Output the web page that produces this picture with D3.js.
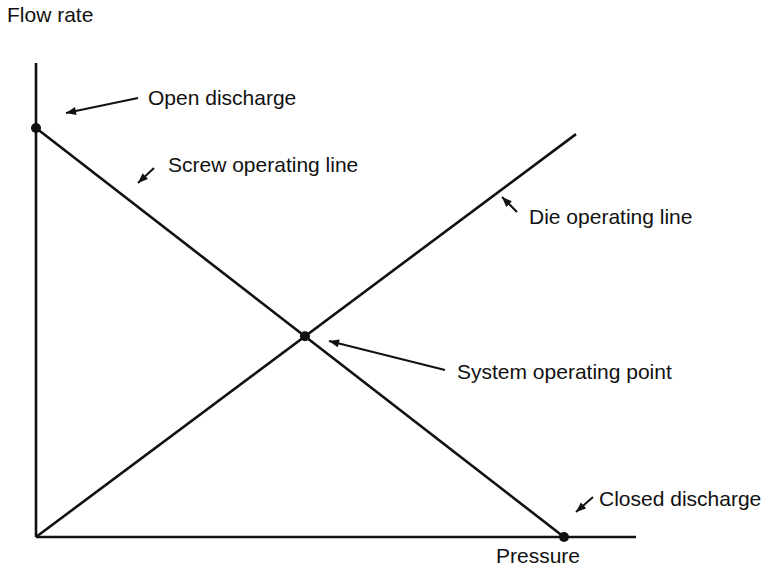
<!DOCTYPE html>
<html>
<head>
<meta charset="utf-8">
<script src="https://cdn.jsdelivr.net/npm/d3@7"></script>
<style>
  body { margin: 0; background: #fff; }
  text { font-family: "Liberation Sans", Arial, Helvetica, sans-serif; font-size: 21px; fill: #111; }
</style>
</head>
<body>
<div id="chart"></div>
<script>
// Data (arbitrary units: pressure 0-100, flow rate 0-100)
const screwLine = [[0, 86.3], [88, 0]];   // open discharge -> closed discharge
const dieLine = [[0, 0], [90, 85.0]];
const axisLabels = ["Pressure", "Flow rate"];
const annotationLabels = ["Open discharge", "Screw operating line", "Die operating line",
                          "System operating point", "Closed discharge"];

const width = 767, height = 568;
const margin = { left: 36, top: 63, right: 131, bottom: 31 };

const svg = d3.select("#chart").append("svg")
    .attr("width", width)
    .attr("height", height);

const x = d3.scaleLinear().domain([0, 100]).range([margin.left, width - margin.right]);
const y = d3.scaleLinear().domain([0, 100]).range([height - margin.bottom, margin.top]);

// intersection of the two operating lines
const slope = l => (l[1][1] - l[0][1]) / (l[1][0] - l[0][0]);
const ms = slope(screwLine), md = slope(dieLine);
const px = (screwLine[0][1] - dieLine[0][1]) / (md - ms);
const systemPoint = [px, dieLine[0][1] + md * px];

// arrow marker
svg.append("defs").append("marker")
    .attr("id", "arrow")
    .attr("viewBox", "0 0 10 8")
    .attr("refX", 10).attr("refY", 4)
    .attr("markerWidth", 11).attr("markerHeight", 8)
    .attr("markerUnits", "userSpaceOnUse")
    .attr("orient", "auto")
    .append("path")
    .attr("d", "M0,0 L10,4 L0,8 Z")
    .attr("fill", "#111");

/* axes */
svg.append("line")
    .attr("x1", x(0)).attr("x2", x(0))
    .attr("y1", y(100)).attr("y2", y(0))
    .attr("stroke", "#111").attr("stroke-width", 2.6);
svg.append("line")
    .attr("x1", x(0)).attr("x2", x(100))
    .attr("y1", y(0)).attr("y2", y(0))
    .attr("stroke", "#111").attr("stroke-width", 2.6);

svg.append("text").text(axisLabels[0]).attr("x", 496).attr("y", 563);
svg.append("text").text(axisLabels[1]).attr("x", 7).attr("y", 22);

/* operating lines */
const line = d3.line().x(d => x(d[0])).y(d => y(d[1]));
svg.selectAll(".op-line")
    .data([screwLine, dieLine])
    .join("path")
    .attr("class", "op-line")
    .attr("d", line)
    .attr("fill", "none")
    .attr("stroke", "#111")
    .attr("stroke-width", 2.6);

/* key points */
svg.selectAll(".pt")
    .data([screwLine[0], systemPoint, screwLine[1]])
    .join("circle")
    .attr("class", "pt")
    .attr("cx", d => x(d[0]))
    .attr("cy", d => y(d[1]))
    .attr("r", 5)
    .attr("fill", "#111");

/* annotations (layout in pixels) */
const annotationLayout = [
    { arrow: [138, 98, 66, 113], text: [148, 105] },
    { arrow: [154, 168, 138, 183], text: [168, 172] },
    { arrow: [517, 212, 502, 197], text: [529, 224] },
    { arrow: [445, 370, 329, 341], text: [457, 379] },
    { arrow: [593, 497, 576, 512], text: [599, 506] }
];

annotationLayout.forEach((a, i) => {
    svg.append("line")
        .attr("x1", a.arrow[0]).attr("y1", a.arrow[1])
        .attr("x2", a.arrow[2]).attr("y2", a.arrow[3])
        .attr("stroke", "#111").attr("stroke-width", 2)
        .attr("marker-end", "url(#arrow)");
    svg.append("text")
        .text(annotationLabels[i])
        .attr("x", a.text[0]).attr("y", a.text[1]);
});
</script>
</body>
</html>
